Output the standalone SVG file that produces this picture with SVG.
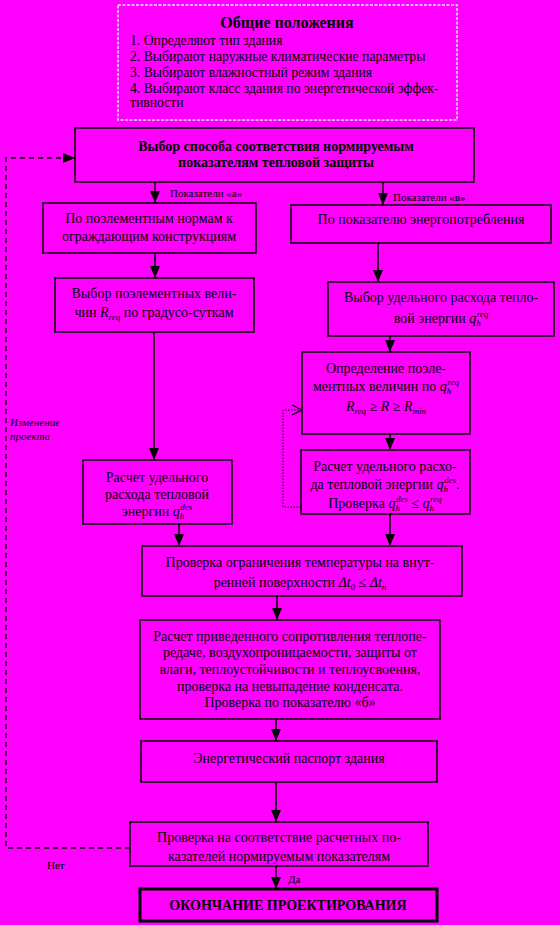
<svg xmlns="http://www.w3.org/2000/svg" width="560" height="925" viewBox="0 0 560 925">
<style>
.bg{fill:#FF00FF}
.box{fill:#FF00FF;stroke:#000;stroke-width:1.5}
.t{font-family:"Liberation Serif","DejaVu Serif",serif;font-size:14px;fill:#000;text-anchor:middle}
.b{font-weight:bold}
.st{text-anchor:start}
.s{font-size:11px}
.i{font-style:italic}
.sub{font-size:9px;font-style:italic}
.ln{stroke:#000;stroke-width:1.5;fill:none}
.dash{stroke:#000;stroke-width:1.3;fill:none;stroke-dasharray:5 4}
.dot{stroke:#000;stroke-width:1;fill:none;stroke-dasharray:1.5 1.5}
</style>
<defs>
<marker id="ah" viewBox="0 0 12 10" refX="12" refY="5" markerWidth="12" markerHeight="10" markerUnits="userSpaceOnUse" orient="auto">
<path d="M0,0 L12,5 L0,10 Z" fill="#000"/>
</marker>
<marker id="ao" viewBox="0 0 12 12" refX="11" refY="6" markerWidth="12" markerHeight="12" markerUnits="userSpaceOnUse" orient="auto">
<path d="M1,1 L11,6 L1,11" fill="none" stroke="#000" stroke-width="1.2"/>
</marker>
</defs>
<rect class="bg" x="0" y="0" width="560" height="925"/>

<g id="connectors">
<line class="ln" x1="155" y1="182" x2="155" y2="203" marker-end="url(#ah)"/>
<line class="ln" x1="383" y1="182" x2="383" y2="205" marker-end="url(#ah)"/>
<line class="ln" x1="155" y1="253" x2="155" y2="278" marker-end="url(#ah)"/>
<line class="ln" x1="378" y1="243" x2="378" y2="282" marker-end="url(#ah)"/>
<line class="ln" x1="390" y1="336" x2="390" y2="352" marker-end="url(#ah)"/>
<line class="ln" x1="390" y1="434" x2="390" y2="450" marker-end="url(#ah)"/>
<line class="ln" x1="154" y1="332" x2="154" y2="460" marker-end="url(#ah)"/>
<line class="ln" x1="179" y1="524" x2="179" y2="546" marker-end="url(#ah)"/>
<line class="ln" x1="390" y1="514" x2="390" y2="546" marker-end="url(#ah)"/>
<line class="ln" x1="277" y1="596" x2="277" y2="620" marker-end="url(#ah)"/>
<line class="ln" x1="276" y1="719" x2="276" y2="741" marker-end="url(#ah)"/>
<line class="ln" x1="276" y1="782" x2="276" y2="822" marker-end="url(#ah)"/>
<line class="ln" x1="276" y1="866" x2="276" y2="889" marker-end="url(#ah)"/>
<polyline class="dash" points="130,848 6,848 6,158 75,158" marker-end="url(#ah)"/>
<polyline class="dot" points="301,507 283,507 283,410 302,410" marker-end="url(#ao)"/>
<text class="t s st" x="170" y="197">Показатели «а»</text>
<text class="t s st" x="393" y="201">Показатели «в»</text>
<text class="t s i st" x="10" y="426">Изменение</text>
<text class="t s i st" x="10" y="440">проекта</text>
<text class="t s st" x="47" y="869">Нет</text>
<text class="t s st" x="288" y="883">Да</text>
</g>

<g id="general">
<rect x="118" y="5" width="339" height="115" fill="#FF00FF" stroke="#e8e8e8" stroke-width="1.5" stroke-dasharray="3 1.5"/>
<text class="t b" x="287" y="28" style="font-size:16px">Общие положения</text>
<text class="t st" x="130" y="45" style="font-size:13.7px">1. Определяют тип здания</text>
<text class="t st" x="130" y="61" style="font-size:13.7px">2. Выбирают наружные климатические параметры</text>
<text class="t st" x="130" y="77" style="font-size:13.7px">3. Выбирают влажностный режим здания</text>
<text class="t st" x="130" y="93" style="font-size:13.7px">4. Выбирают класс здания по энергетической эффек-</text>
<text class="t st" x="130" y="107" style="font-size:13.7px">тивности</text>
</g>

<g id="choice">
<rect class="box" x="75" y="128" width="399" height="54"/>
<text class="t b" x="276" y="151">Выбор способа соответствия нормируемым</text>
<text class="t b" x="276" y="167">показателям тепловой защиты</text>
</g>

<g id="elemNorms">
<rect class="box" x="43" y="203" width="213" height="50"/>
<text class="t" x="149" y="223">По поэлементным нормам к</text>
<text class="t" x="149" y="241">ограждающим конструкциям</text>
</g>

<g id="energyIndex">
<rect class="box" x="291" y="205" width="260" height="38"/>
<text class="t" x="421" y="224">По показателю энергопотребления</text>
</g>

<g id="elemChoice">
<rect class="box" x="55" y="278" width="199" height="54"/>
<text class="t" x="154" y="298">Выбор поэлементных вели-</text>
<text class="t" x="154" y="317">чин  <tspan class="i">R</tspan><tspan class="sub" baseline-shift="-3">req</tspan> по градусо-суткам</text>
</g>

<g id="specificChoice">
<rect class="box" x="328" y="282" width="226" height="54"/>
<text class="t" x="441" y="302">Выбор удельного расхода тепло-</text>
<text class="t" x="441" y="323">вой энергии  <tspan class="i">q</tspan><tspan class="sub" baseline-shift="-3">h</tspan><tspan class="sub" baseline-shift="6" dx="-4">req</tspan></text>
</g>

<g id="elemDetermine">
<rect class="box" x="302" y="352" width="168" height="82"/>
<text class="t" x="386" y="373">Определение поэле-</text>
<text class="t" x="386" y="391">ментных величин по  <tspan class="i">q</tspan><tspan class="sub" baseline-shift="-3">h</tspan><tspan class="sub" baseline-shift="6" dx="-4">req</tspan></text>
<text class="t i" x="386" y="411">R<tspan class="sub" baseline-shift="-3">req</tspan> ≥ R ≥ R<tspan class="sub" baseline-shift="-3">min</tspan></text>
</g>

<g id="specCalcRight">
<rect class="box" x="301" y="450" width="169" height="64"/>
<text class="t" x="385" y="471">Расчет удельного расхо-</text>
<text class="t" x="385" y="489">да тепловой энергии <tspan class="i">q</tspan><tspan class="sub" baseline-shift="-3">h</tspan><tspan class="sub" baseline-shift="6" dx="-4">des</tspan>.</text>
<text class="t" x="385" y="508">Проверка <tspan class="i">q</tspan><tspan class="sub" baseline-shift="-3">h</tspan><tspan class="sub" baseline-shift="6" dx="-4">des</tspan> ≤ <tspan class="i">q</tspan><tspan class="sub" baseline-shift="-3">h</tspan><tspan class="sub" baseline-shift="6" dx="-4">req</tspan></text>
</g>

<g id="specCalcLeft">
<rect class="box" x="83" y="460" width="149" height="64"/>
<text class="t" x="157" y="482">Расчет удельного</text>
<text class="t" x="157" y="499">расхода тепловой</text>
<text class="t" x="157" y="516">энергии  <tspan class="i">q</tspan><tspan class="sub" baseline-shift="-3">h</tspan><tspan class="sub" baseline-shift="6" dx="-4">des</tspan></text>
</g>

<g id="tempCheck">
<rect class="box" x="142" y="546" width="320" height="50"/>
<text class="t" x="300" y="567">Проверка ограничения температуры  на внут-</text>
<text class="t" x="300" y="587">ренней поверхности  <tspan class="i">Δt</tspan><tspan class="sub" baseline-shift="-3">0</tspan> ≤ <tspan class="i">Δt</tspan><tspan class="sub" baseline-shift="-3">n</tspan></text>
</g>

<g id="resistCalc">
<rect class="box" x="140" y="620" width="300" height="99"/>
<text class="t" x="290" y="641">Расчет приведенного сопротивления теплопе-</text>
<text class="t" x="290" y="657">редаче, воздухопроницаемости, защиты от</text>
<text class="t" x="290" y="674">влаги, теплоустойчивости и теплоусвоения,</text>
<text class="t" x="290" y="691">проверка на невыпадение конденсата.</text>
<text class="t" x="290" y="707">Проверка по показателю «б»</text>
</g>

<g id="passport">
<rect class="box" x="141" y="741" width="296" height="41"/>
<text class="t" x="289" y="763">Энергетический паспорт здания</text>
</g>

<g id="compliance">
<rect class="box" x="130" y="822" width="298" height="44"/>
<text class="t" x="279" y="842">Проверка на соответствие расчетных по-</text>
<text class="t" x="279" y="861">казателей нормируемым показателям</text>
</g>

<g id="finish">
<rect class="box" x="140" y="889" width="297" height="32" style="stroke-width:3"/>
<text class="t b" x="288" y="910">ОКОНЧАНИЕ ПРОЕКТИРОВАНИЯ</text>
</g>
</svg>
